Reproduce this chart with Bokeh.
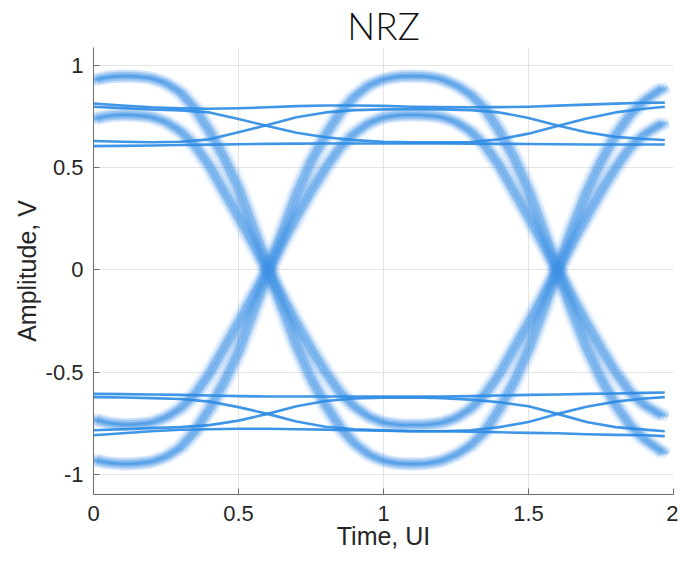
from bokeh.plotting import figure
from bokeh.models import FixedTicker, Range1d, ColumnDataSource
from bokeh.transform import dodge
from bokeh.embed import file_html
from bokeh.resources import INLINE

# ---------------- data ----------------
t_fine = [0.00, 0.05, 0.10, 0.15, 0.20, 0.25, 0.30, 0.35, 0.40, 0.45,
          0.50, 0.55, 0.60, 0.65, 0.70, 0.75, 0.80, 0.85, 0.90, 0.95,
          1.00, 1.05, 1.10, 1.15, 1.20, 1.25, 1.30, 1.35, 1.40, 1.45,
          1.50, 1.55, 1.60, 1.65, 1.70, 1.75, 1.80, 1.85, 1.90, 1.95, 1.97]

# wide (jittered) transition bands
band_high_start = [0.930, 0.945, 0.950, 0.948, 0.940, 0.915, 0.870, 0.790, 0.680, 0.550,
                   0.400, 0.210, 0.020, -0.180, -0.370, -0.530, -0.660, -0.770, -0.850, -0.905,
                   -0.935, -0.948, -0.950, -0.948, -0.935, -0.905, -0.860, -0.790, -0.680, -0.550,
                   -0.390, -0.200, 0.000, 0.200, 0.380, 0.530, 0.660, 0.760, 0.830, 0.880, 0.895]
band_mid_start = [0.740, 0.755, 0.760, 0.758, 0.750, 0.725, 0.680, 0.610, 0.510, 0.385,
                  0.260, 0.130, 0.000, -0.130, -0.260, -0.385, -0.500, -0.600, -0.670, -0.720,
                  -0.748, -0.758, -0.760, -0.758, -0.750, -0.725, -0.680, -0.610, -0.510, -0.385,
                  -0.260, -0.130, 0.000, 0.130, 0.260, 0.385, 0.500, 0.600, 0.665, 0.710, 0.722]
band_low_start = [-0.930, -0.945, -0.950, -0.948, -0.940, -0.915, -0.870, -0.790, -0.680, -0.550,
                  -0.400, -0.210, -0.020, 0.180, 0.370, 0.530, 0.660, 0.770, 0.850, 0.905,
                  0.935, 0.948, 0.950, 0.948, 0.935, 0.905, 0.860, 0.790, 0.680, 0.550,
                  0.390, 0.200, 0.000, -0.200, -0.380, -0.530, -0.660, -0.760, -0.830, -0.880, -0.900]
band_midlow_start = [-0.730, -0.750, -0.758, -0.756, -0.748, -0.722, -0.678, -0.608, -0.508, -0.383,
                     -0.258, -0.128, 0.000, 0.130, 0.260, 0.385, 0.500, 0.600, 0.670, 0.720,
                     0.748, 0.758, 0.760, 0.758, 0.750, 0.725, 0.680, 0.610, 0.510, 0.385,
                     0.260, 0.130, 0.000, -0.130, -0.260, -0.385, -0.500, -0.598, -0.662, -0.705, -0.715]

t_coarse = [0.0, 0.1, 0.2, 0.3, 0.4, 0.5, 0.6, 0.7, 0.8, 0.9, 1.0,
            1.1, 1.2, 1.3, 1.4, 1.5, 1.6, 1.7, 1.8, 1.9, 1.97]

# narrow level traces, upper group
upper_1 = [0.816, 0.806, 0.797, 0.792, 0.790, 0.792, 0.797, 0.803, 0.806, 0.806, 0.804,
           0.800, 0.798, 0.797, 0.798, 0.800, 0.805, 0.810, 0.815, 0.819, 0.820]
upper_2 = [0.800, 0.793, 0.786, 0.782, 0.772, 0.740, 0.705, 0.672, 0.650, 0.636, 0.628,
           0.625, 0.625, 0.627, 0.640, 0.668, 0.705, 0.742, 0.772, 0.790, 0.800]
upper_3 = [0.632, 0.628, 0.626, 0.628, 0.640, 0.675, 0.710, 0.748, 0.772, 0.783, 0.787,
           0.788, 0.787, 0.783, 0.772, 0.745, 0.708, 0.675, 0.652, 0.642, 0.637]
upper_4 = [0.607, 0.608, 0.610, 0.612, 0.614, 0.616, 0.618, 0.619, 0.620, 0.620, 0.620,
           0.620, 0.620, 0.619, 0.618, 0.617, 0.616, 0.615, 0.615, 0.615, 0.615]
# narrow level traces, lower group
lower_1 = [-0.607, -0.608, -0.610, -0.612, -0.615, -0.618, -0.620, -0.620, -0.620, -0.620, -0.620,
           -0.620, -0.620, -0.618, -0.615, -0.612, -0.610, -0.607, -0.605, -0.602, -0.600]
lower_2 = [-0.623, -0.625, -0.628, -0.632, -0.645, -0.672, -0.705, -0.742, -0.768, -0.780, -0.786,
           -0.790, -0.790, -0.785, -0.770, -0.745, -0.705, -0.670, -0.645, -0.630, -0.623]
lower_3 = [-0.785, -0.780, -0.775, -0.770, -0.760, -0.738, -0.705, -0.668, -0.642, -0.630, -0.626,
           -0.625, -0.628, -0.635, -0.648, -0.668, -0.705, -0.745, -0.770, -0.782, -0.790]
lower_4 = [-0.810, -0.800, -0.790, -0.783, -0.780, -0.778, -0.778, -0.780, -0.782, -0.785, -0.788,
           -0.790, -0.790, -0.792, -0.795, -0.798, -0.800, -0.805, -0.808, -0.810, -0.814]

x_ticks = [0.0, 0.5, 1.0, 1.5, 2.0]
x_tick_labels = ["0", "0.5", "1", "1.5", "2"]
y_ticks = [-1.0, -0.5, 0.0, 0.5, 1.0]
y_tick_labels = ["-1", "-0.5", "0", "0.5", "1"]

# ---------------- figure ----------------
p = figure(frame_width=580, frame_height=447,
           x_range=Range1d(0, 2), y_range=Range1d(-1.1, 1.09),
           output_backend="svg", toolbar_location=None,
           min_border_left=93, min_border_right=5, min_border_top=45, min_border_bottom=0,
           title="NRZ")
p.outline_line_color = None
p.background_fill_color = "white"

p.title.align = "center"
p.title.text_font = "'Lato Light', Lato, sans-serif"
p.title.text_font_size = "37px"
p.title.text_font_style = "normal"
p.title.text_color = "#111111"
p.title.offset = -6
p.title.standoff = 0

# jittered bands: each band drawn at a few small timing offsets (eye jitter look)
band_src = ColumnDataSource(dict(t=t_fine, a=band_high_start, b=band_mid_start,
                                 c=band_low_start, d=band_midlow_start))
jitter_offsets = (-0.012, 0.0, 0.012)
band_layers = ((13, 0.09), (9, 0.13), (5, 0.16), (2, 0.26))
for col in ("a", "b", "c", "d"):
    for off in jitter_offsets:
        for w, a in band_layers:
            p.line(x=dodge("t", off), y=col, source=band_src, line_color="#3d95e6",
                   line_width=w, line_alpha=a, line_join="round", line_cap="butt")

thin_x = [t_coarse] * 8
thin_y = [upper_1, upper_2, upper_3, upper_4, lower_1, lower_2, lower_3, lower_4]
p.multi_line(thin_x, thin_y, line_color="#2b8be3", line_width=2.6, line_alpha=0.9,
             line_join="round")

axis_col = "#6e6e6e"
text_col = "#262626"
for ax, ticks, labels in ((p.xaxis[0], x_ticks, x_tick_labels), (p.yaxis[0], y_ticks, y_tick_labels)):
    ax.ticker = FixedTicker(ticks=ticks)
    ax.major_label_overrides = {k: v for k, v in zip(ticks, labels)}
    ax.major_tick_in = 6
    ax.major_tick_out = 0
    ax.minor_tick_in = 0
    ax.minor_tick_out = 0
    ax.axis_line_color = axis_col
    ax.major_tick_line_color = axis_col
    ax.major_label_text_font = "Liberation Sans"
    ax.major_label_text_font_size = "22px"
    ax.major_label_text_color = text_col
    ax.axis_label_text_font = "Liberation Sans"
    ax.axis_label_text_font_size = "25px"
    ax.axis_label_text_font_style = "normal"
    ax.axis_label_text_color = text_col

p.xaxis.axis_label = "Time, UI"
p.yaxis.axis_label = "Amplitude, V"
p.xaxis.major_label_standoff = 11
p.xaxis.axis_label_standoff = -2
p.yaxis.major_label_standoff = 10
p.yaxis.axis_label_standoff = 2

p.xgrid.grid_line_color = "#e4e4e4"
p.ygrid.grid_line_color = "#e4e4e4"

open("out.html", "w").write(file_html(p, INLINE))
